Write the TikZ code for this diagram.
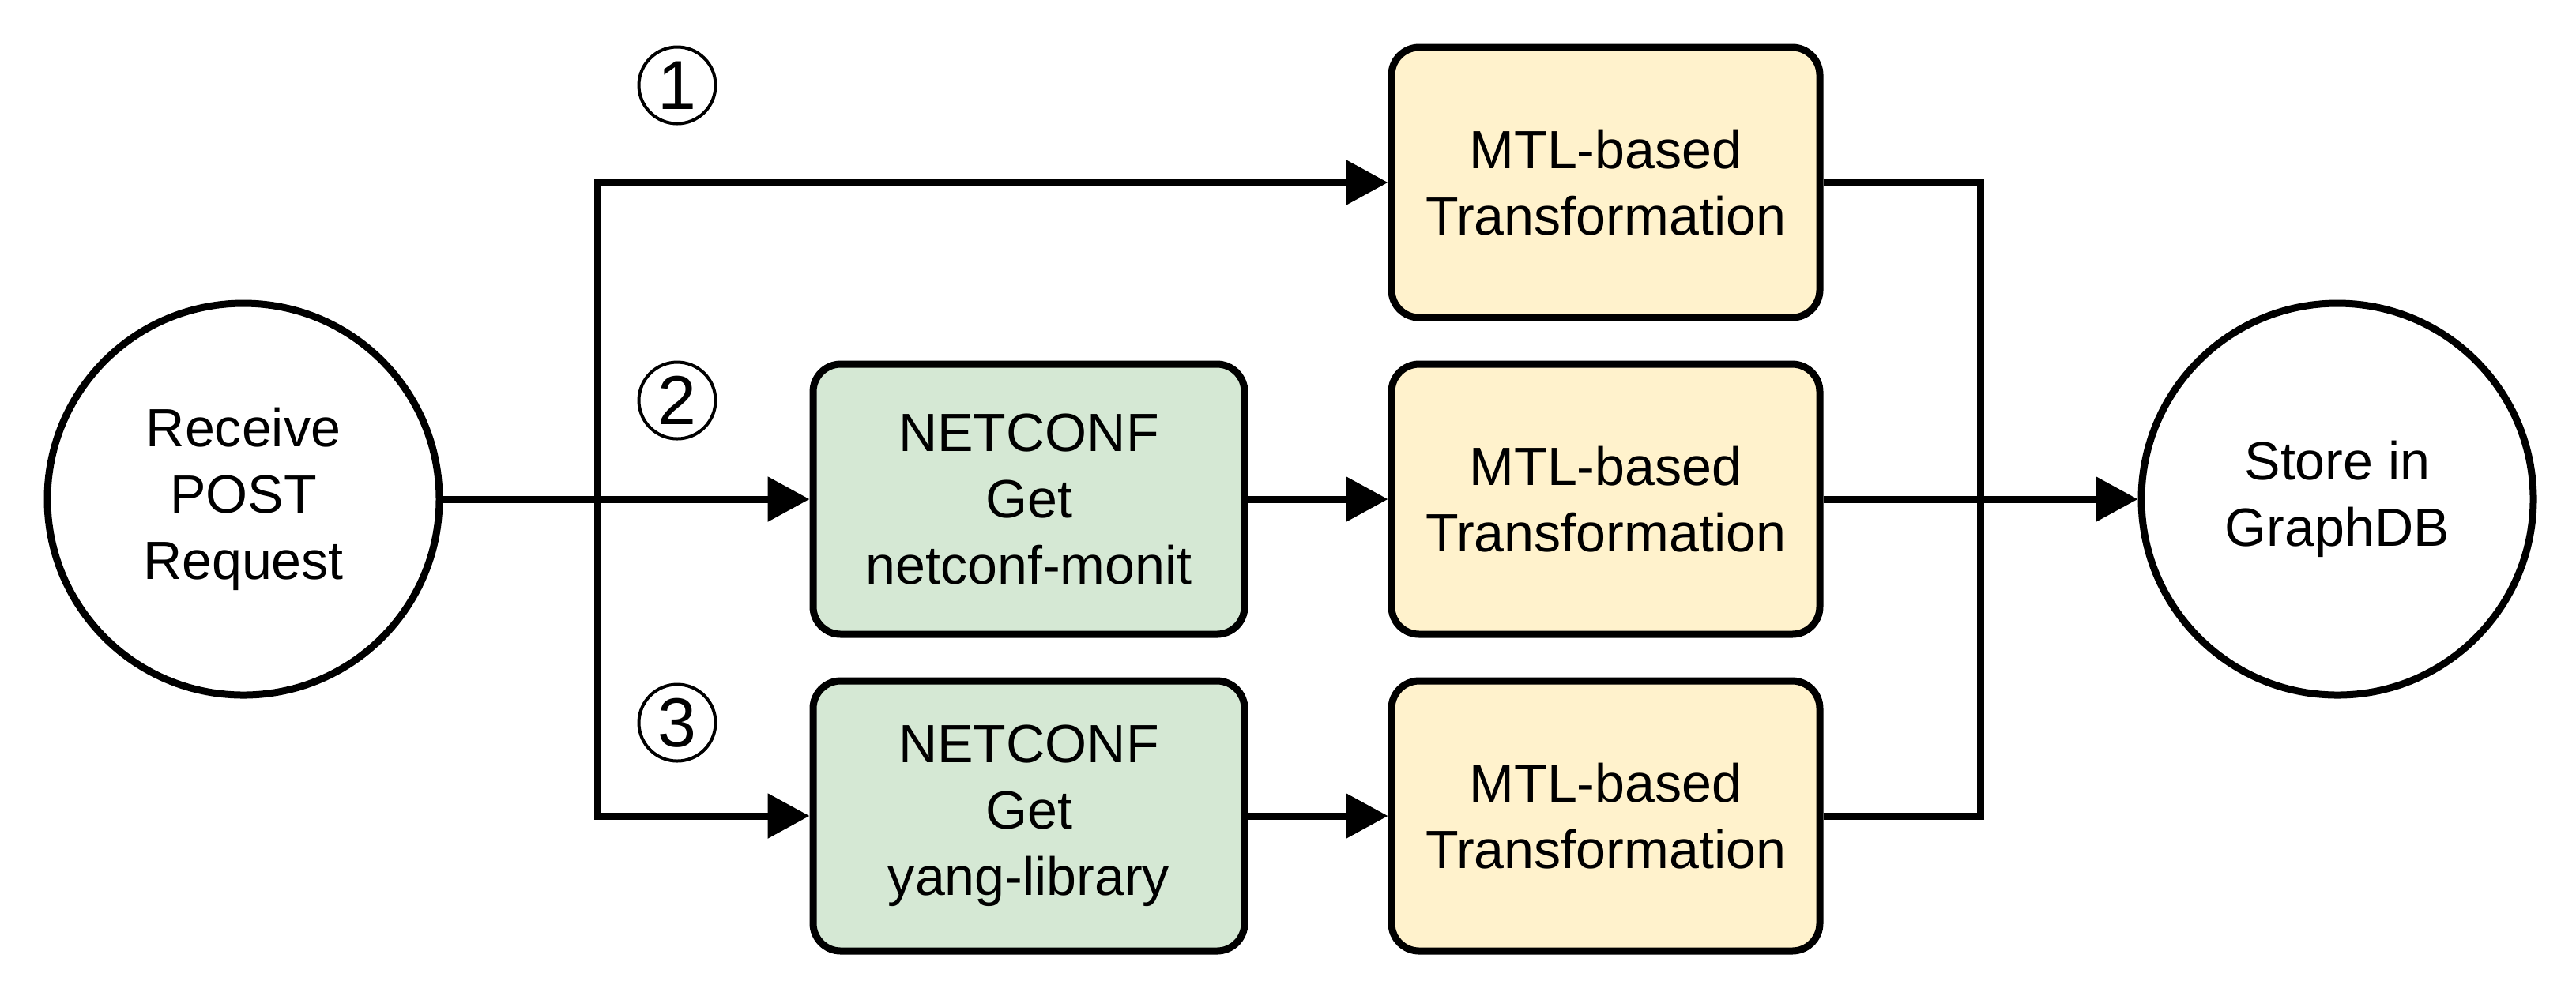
\documentclass[tikz,border=0pt]{standalone}
\usepackage{fontspec}
\setmainfont{Liberation Sans}
\usetikzlibrary{positioning,arrows.meta}
\definecolor{getgreen}{HTML}{D5E8D4}
\definecolor{mtlyellow}{HTML}{FFF2CC}
\begin{document}
\begin{tikzpicture}[
   every node/.style={align=center, font=\fontsize{19.4}{23.9}\selectfont},
   state/.style={draw, circle, line width=0.09cm, minimum size=4.96cm, inner sep=0pt},
   getbox/.style={draw, rounded corners=0.35cm, line width=0.09cm, fill=getgreen,
                  minimum width=5.46cm, minimum height=3.42cm, inner sep=0pt},
   mtlbox/.style={draw, rounded corners=0.35cm, line width=0.09cm, fill=mtlyellow,
                  minimum width=5.42cm, minimum height=3.42cm, inner sep=0pt},
   num/.style={draw, circle, line width=0.04cm, minimum size=0.97cm, inner sep=0pt,
               font=\fontsize{25}{25}\selectfont},
   flow/.style={line width=0.09cm},
   arrow/.style={flow, -{Triangle[length=0.53cm, width=0.55cm]}}]

\useasboundingbox (0,0) rectangle (32.6,-12.6);

\node[state] (recv) at (3.08,-6.32) {Receive\\POST\\Request};
\node[state] (store) at (29.58,-6.32) {Store in\\GraphDB};

\node[mtlbox] (mtl1) at (20.32,-2.31) {MTL-based\\Transformation};
\node[mtlbox] (mtl2) at (20.32,-6.32) {MTL-based\\Transformation};
\node[mtlbox] (mtl3) at (20.32,-10.33) {MTL-based\\Transformation};

\node[getbox] (get2) at (13.02,-6.32) {NETCONF\\Get\\netconf-monit};
\node[getbox] (get3) at (13.02,-10.33) {NETCONF\\Get\\yang-library};

\node[num] (n1) at (8.57,-1.08) {1};
\node[num] (n2) at (8.57,-5.07) {2};
\node[num] (n3) at (8.57,-9.15) {3};

\coordinate (fork) at (7.56,-6.32);
\coordinate (join) at (25.06,-6.32);

% branches out of the request
\draw[arrow] (recv) -- (get2);
\draw[arrow] (fork) |- (mtl1.west);
\draw[arrow] (fork) |- (get3.west);

\draw[arrow] (get2) -- (mtl2);
\draw[arrow] (get3) -- (mtl3);

% results go to the store
\draw[flow] (mtl1.east) -| (join);
\draw[flow] (mtl3.east) -| (join);
\draw[arrow] (mtl2) -- (store);

\end{tikzpicture}
\end{document}
